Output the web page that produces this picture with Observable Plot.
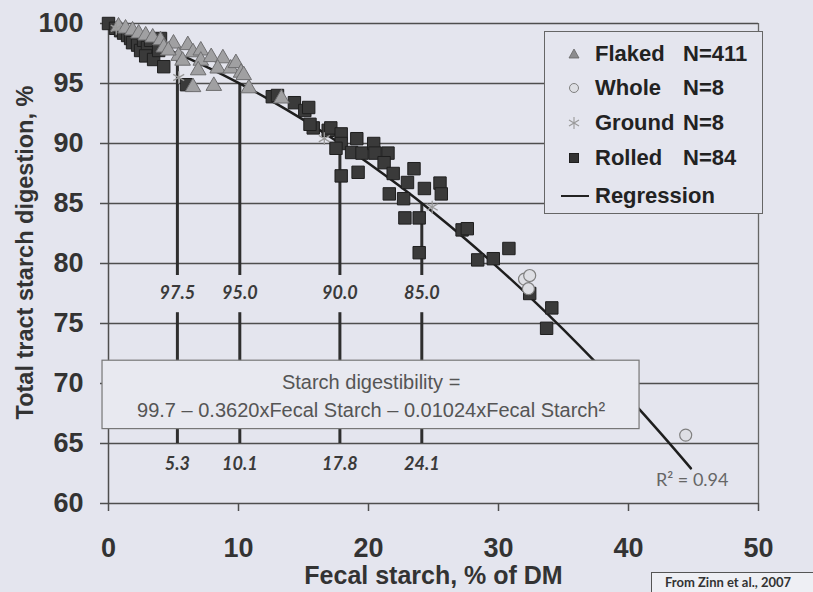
<!DOCTYPE html>
<html>
<head>
<meta charset="utf-8">
<script src="https://cdn.jsdelivr.net/npm/d3@7"></script>
<script src="https://cdn.jsdelivr.net/npm/@observablehq/plot@0.6"></script>
<style>
html, body { margin: 0; padding: 0; background: #e4e5ee; }
#wrap { position: relative; width: 813px; height: 592px; overflow: hidden; font-family: "Liberation Sans", Arial, sans-serif; }
#legend { position: absolute; left: 544px; top: 31px; width: 219px; height: 183px; border: 1px solid #666; background: #e4e5ee; box-sizing: border-box; }
.row { position: absolute; left: 0; height: 30px; display: flex; align-items: center; font-weight: bold; font-size: 22px; color: #222; white-space: nowrap; }
.row svg { width: 36px; height: 30px; margin-left: 11px; margin-right: 3px; }
.row .nm { display: inline-block; width: 88px; }
#caption { position: absolute; left: 651px; top: 572px; width: 170px; height: 22px; border: 1px solid #555; box-sizing: border-box; font-family: Lato, "Open Sans", sans-serif; font-weight: bold; font-size: 13px; color: #333; padding-left: 13px; line-height: 19px; background: #eeeff4; }
</style>
</head>
<body>
<div id="wrap">
  <div id="chart"></div>
  <div id="legend"></div>
  <div id="caption">From Zinn et al., 2007</div>
</div>
<script>
// ---------- data ----------
const flaked = [
  [0.77,99.75],[1.31,99.58],[1.85,99.42],[2.32,99.17],[2.86,99.0],[3.4,98.83],[4.0,98.6],
  [4.25,98.0],[5.0,98.33],[5.4,97.3],[4.6,97.75],[5.7,96.9],[6.1,98.2],[6.5,97.6],[7.1,97.75],
  [7.1,96.9],[7.9,97.2],[6.9,96.1],[8.1,94.8],[6.5,94.7],[8.8,97.1],[8.4,96.25],[9.4,96.25],
  [9.8,96.7],[10.2,95.9],[10.4,95.7],[10.8,94.6],[13.3,93.75]
];
const rolled = [
  [0,100],[0.54,99.6],[0.93,99.4],[1.16,99.2],[1.47,99.0],[1.7,98.75],[1.85,98.4],[2.24,98.2],
  [2.47,97.75],[2.7,98.6],[3.0,98.0],[3.24,98.6],[4.0,98.75],[2.86,97.3],[3.47,97.0],[3.86,97.75],
  [4.25,96.4],[6.0,94.9],[12.6,93.9],[13.0,94.0],[14.3,93.4],[15.1,92.75],[15.4,93.0],[15.75,91.3],
  [15.5,91.6],[16.9,91.1],[17.1,91.3],[17.9,90.8],[17.9,90.0],[17.5,89.6],[19.1,90.4],[18.7,89.25],
  [19.5,89.2],[17.9,87.3],[19.2,87.6],[20.4,90.0],[20.5,89.2],[21.5,89.2],[21.2,88.4],[21.9,87.5],
  [23.5,87.9],[23.0,86.75],[21.6,85.8],[22.7,85.4],[24.3,86.25],[25.5,86.7],[25.6,85.8],[22.8,83.8],
  [23.9,83.8],[23.9,80.9],[27.2,82.8],[27.6,82.9],[30.8,81.25],[28.4,80.3],[29.6,80.4],[32.4,77.5],
  [34.1,76.3],[33.7,74.6]
];
const whole = [[32.0,78.7],[32.4,79.0],[32.3,77.9],[44.4,65.7]];
const ground = [[0.6,99.6],[5.4,95.5],[16.6,90.4],[24.9,84.7]];

// regression curve
const regX = [0, 2.5, 5, 7.5, 10, 12.5, 15, 17.5, 20, 22.5, 25, 27.5, 30, 32.5, 35, 37.5, 40, 42.5, 44.8];
const regY = [99.7, 98.73, 97.63, 96.41, 95.06, 93.58, 91.97, 90.23, 88.36, 86.37, 84.25, 82.0, 79.62, 77.12, 74.49, 71.73, 68.84, 65.82, 62.93];

// drop lines: fecal starch value and digestibility value
const dropStarch = [5.3, 10.1, 17.8, 24.1];
const dropDigest = [97.5, 95.0, 90.0, 85.0];

const xTicks = [0, 10, 20, 30, 40, 50];
const yTicks = [60, 65, 70, 75, 80, 85, 90, 95, 100];

const legendItems = ["Flaked", "Whole", "Ground", "Rolled", "Regression"];
const legendN = ["N=411", "N=8", "N=8", "N=84", ""];

const eqLine1 = "Starch digestibility =";
const eqLine2 = "99.7 \u2013 0.3620xFecal Starch \u2013 0.01024xFecal Starch\u00B2";
const r2Text = "R\u00B2 = 0.94";

// ---------- build ----------
const pts = a => a.map(([x, y]) => ({x, y}));
const reg = regX.map((x, i) => ({x, y: regY[i]}));
const drops = dropStarch.map((x, i) => ({x, y: dropDigest[i]}));
const eqBox = {x1: -0.46, x2: 40.85, y1: 66.2, y2: 71.9};

const font = "Liberation Sans, Arial, sans-serif";
const grid = "#4e4e4e";

const chart = Plot.plot({
  width: 813,
  height: 592,
  marginLeft: 108,
  marginRight: 55,
  marginTop: 23,
  marginBottom: 89,
  style: {background: "transparent", fontFamily: font},
  x: {domain: [0, 50]},
  y: {domain: [60, 100]},
  marks: [
    Plot.ruleY(yTicks, {x1: 0, x2: 50, stroke: grid, strokeWidth: 1.5}),
    Plot.ruleX([0], {y1: 60, y2: 100, stroke: grid, strokeWidth: 1.5}),
    Plot.ruleX([50], {y1: 60, y2: 100, stroke: "#666", strokeWidth: 1.3}),
    Plot.axisY({ticks: yTicks, tickSize: 8, tickPadding: 17, fontSize: 27, fontWeight: "bold",
      stroke: grid, strokeWidth: 1.5, fill: "#333", label: null}),
    Plot.axisX({ticks: xTicks, tickSize: 8, tickPadding: 26, fontSize: 27, fontWeight: "bold",
      stroke: grid, strokeWidth: 1.5, fill: "#333", label: null}),
    // drop lines
    Plot.ruleX(drops, {x: "x", y1: "y", y2: 79, stroke: "#2e2e2e", strokeWidth: 3}),
    Plot.ruleX(drops, {x: "x", y1: 75.9, y2: 65, stroke: "#2e2e2e", strokeWidth: 3}),
    Plot.text(drops, {x: "x", y: 77.5, text: d => d.y.toFixed(1), fontStyle: "italic", fontWeight: "bold", fontSize: 18,
      fontFamily: "Lato, sans-serif", fill: "#3a3a3a"}),
    Plot.text(drops, {x: "x", y: 63.3, text: d => d.x.toFixed(1), fontStyle: "italic", fontWeight: "bold", fontSize: 18,
      fontFamily: "Lato, sans-serif", fill: "#3a3a3a"}),
    // regression
    Plot.line(reg, {x: "x", y: "y", stroke: "#1e1e1e", strokeWidth: 2.5, curve: "natural"}),
    // points
    Plot.dot(pts(rolled), {x: "x", y: "y", symbol: "square", r: 7, fill: "#3a3a3a", stroke: "#1f1f1f", strokeWidth: 1}),
    Plot.dot(pts(flaked), {x: "x", y: "y", symbol: "triangle", r: 5.8, fill: "#a0a0a2", stroke: "#6e6e70", strokeWidth: 1}),
    Plot.dot(pts(ground), {x: "x", y: "y", symbol: "asterisk", r: 6, stroke: "#9a9a9a", strokeWidth: 1.3}),
    Plot.dot(pts(whole), {x: "x", y: "y", symbol: "circle", r: 6, fill: "#dedfe4", stroke: "#808080", strokeWidth: 1.2}),
    // equation box
    Plot.rect([eqBox], {x1: "x1", x2: "x2", y1: "y1", y2: "y2", fill: "#e8e9f0", stroke: "#777", strokeWidth: 1.2}),
    Plot.text([eqLine1], {x: 20.2, y: 70.08, text: d => d, fontSize: 20, fill: "#555", fontFamily: font}),
    Plot.text([eqLine2], {x: 20.2, y: 67.75, text: d => d, fontSize: 20, fill: "#555", fontFamily: font}),
    Plot.text([r2Text], {x: 44.9, y: 61.9, text: d => d, fontSize: 18, fill: "#666", fontFamily: "Lato, sans-serif"}),
    // axis titles
    Plot.text(["Fecal starch, % of DM"], {frameAnchor: "bottom", dy: 72, text: d => d, fontSize: 25,
      fontWeight: "bold", fill: "#333", lineAnchor: "middle", textAnchor: "middle"}),
    Plot.text(["Total tract starch digestion, %"], {frameAnchor: "left", dx: -83, dy: -11, rotate: -90,
      text: d => d, fontSize: 23.5, fontWeight: "bold", fill: "#333", lineAnchor: "middle", textAnchor: "middle"})
  ]
});
document.getElementById("chart").appendChild(chart);

// legend
const legend = document.getElementById("legend");
const centers = [22, 56, 91, 126, 164];
const symbols = [
  '<polygon points="18,10 23,19 13,19" fill="#8c8c8e" stroke="#666" stroke-width="0.8"/>',
  '<circle cx="18" cy="15" r="4.5" fill="#dedfe4" stroke="#808080" stroke-width="1"/>',
  '<g stroke="#999" stroke-width="1.1"><line x1="18" y1="9" x2="18" y2="21"/><line x1="13" y1="12" x2="23" y2="18"/><line x1="13" y1="18" x2="23" y2="12"/></g>',
  '<rect x="13.5" y="10.5" width="9" height="9" fill="#333" stroke="#1e1e1e"/>',
  '<line x1="5" y1="15" x2="33" y2="15" stroke="#222" stroke-width="2"/>'
];
legendItems.forEach((name, i) => {
  const row = document.createElement("div");
  row.className = "row";
  row.style.top = (centers[i] - 15) + "px";
  const nm = legendN[i] ? `<span class="nm">${name}</span><span>${legendN[i]}</span>` : `<span>${name}</span>`;
  row.innerHTML = `<svg viewBox="0 0 36 30">${symbols[i]}</svg>${nm}`;
  legend.appendChild(row);
});
</script>
</body>
</html>
